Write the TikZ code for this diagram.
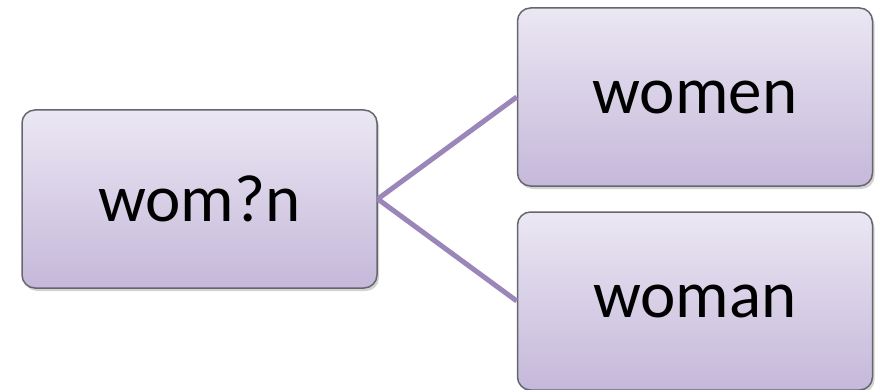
\documentclass[tikz,border=0pt]{standalone}
\usepackage{fontspec}
\setmainfont{Carlito}
\usetikzlibrary{shadows}
\usetikzlibrary{positioning}

\definecolor{boxtop}{HTML}{EBE7F3}
\definecolor{boxbottom}{HTML}{C5B8DA}
\definecolor{boxline}{HTML}{66666E}
\definecolor{linkcol}{HTML}{9A86B8}

\begin{document}
\begin{tikzpicture}[x=1pt, y=1pt,
	box/.style = {rectangle, rounded corners = 13pt, draw = boxline, line width = 1.5pt,
		top color = boxtop, bottom color = boxbottom, minimum width = 355pt, minimum height = 178pt,
		inner sep = 0pt, font = \fontsize{67}{70}\selectfont,
		drop shadow = {shadow xshift = 2pt, shadow yshift = -3pt, opacity = 0.35}},
	link/.style = {draw = linkcol, line width = 5pt}]
		
		\useasboundingbox (0,0) rectangle (877,-390);
		
		\node[box] at (199.5,-199) (wild) {wom?n};
		\node[box] at (695,-97) (women) {women};
		\node[box] at (695,-301) (woman) {woman};
		
		\path
		(wild.east) edge[link] (women.west)
		(wild.east) edge[link] (woman.west)
		;
		
		\end{tikzpicture}
\end{document}
